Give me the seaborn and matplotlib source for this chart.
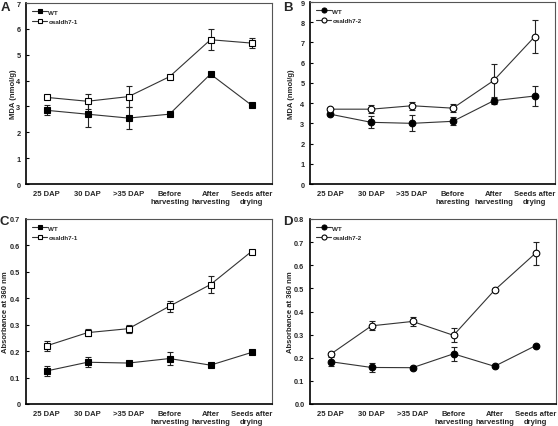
import numpy as np
import pandas as pd
import matplotlib
matplotlib.use("Agg")
import matplotlib.pyplot as plt
import seaborn as sns

sns.set_theme(style="white")
plt.rcParams["font.family"] = ["Liberation Sans", "DejaVu Sans"]
plt.rcParams["font.weight"] = "bold"

# Data
stages = ["25 DAP", "30 DAP", ">35 DAP", "Before\nharvesting", "After\nharvesting", "Seeds after\ndrying"]
stages_b = ["25 DAP", "30 DAP", ">35 DAP", "Before\nharesting", "After\nharvesting", "Seeds after\ndrying"]

a_wt = [2.85, 2.70, 2.55, 2.70, 4.25, 3.05]
a_wt_err = [0.20, 0.50, 0.42, 0.05, 0.05, 0.05]
a_mut = [3.35, 3.20, 3.38, 4.15, 5.58, 5.45]
a_mut_err = [0.05, 0.30, 0.40, 0.05, 0.40, 0.18]

b_wt = [3.45, 3.05, 3.00, 3.10, 4.12, 4.35]
b_wt_err = [0.05, 0.30, 0.40, 0.20, 0.15, 0.50]
b_mut = [3.70, 3.70, 3.87, 3.75, 5.12, 7.28]
b_mut_err = [0.05, 0.20, 0.20, 0.20, 0.80, 0.82]

c_wt = [0.125, 0.158, 0.155, 0.172, 0.147, 0.195]
c_wt_err = [0.020, 0.018, 0.005, 0.025, 0.005, 0.005]
c_mut = [0.220, 0.270, 0.285, 0.370, 0.452, 0.577]
c_mut_err = [0.020, 0.013, 0.015, 0.020, 0.033, 0.005]

d_wt = [0.183, 0.158, 0.157, 0.217, 0.163, 0.252]
d_wt_err = [0.020, 0.020, 0.005, 0.030, 0.005, 0.005]
d_mut = [0.215, 0.338, 0.357, 0.297, 0.492, 0.652]
d_mut_err = [0.005, 0.020, 0.020, 0.030, 0.005, 0.050]

W, H = 558, 427
fig = plt.figure(figsize=(W / 100, H / 100), dpi=100)


def px_axes(left, top, right, bottom):
    return fig.add_axes([left / W, 1 - bottom / H, (right - left) / W, (bottom - top) / H])


def draw_panel(ax, labels, wt, wt_err, mut, mut_err, mut_name, marker,
               ymax, yticks, yfmt, ylabel, label_x):
    x = np.arange(len(labels))
    df = pd.DataFrame({
        "x": np.concatenate([x, x]),
        "value": wt + mut,
        "line": ["WT"] * len(x) + [mut_name] * len(x),
    })
    msize = 4.2 if marker == "s" else 4.8
    for name, face in [("WT", "black"), (mut_name, "white")]:
        sub = df[df["line"] == name]
        err = wt_err if name == "WT" else mut_err
        ax.errorbar(sub["x"], sub["value"], yerr=err, fmt="none", ecolor="#222222",
                    elinewidth=0.8, capsize=2.2, capthick=0.8, zorder=2)
        sns.lineplot(data=sub, x="x", y="value", ax=ax, color="#333333", lw=0.8,
                     marker=marker, markersize=msize,
                     markerfacecolor=face, markeredgecolor="black", markeredgewidth=0.8,
                     label=name, zorder=3)
    ax.set_xlim(-0.5, len(labels) - 0.5)
    ax.set_ylim(0, ymax)
    ax.set_xticks(x)
    ax.set_xticklabels(labels, fontsize=5.5, fontweight="bold", linespacing=1.3)
    ax.set_xticks(x[:-1] + 0.5, minor=True)
    ax.tick_params(axis="x", which="major", length=0, pad=4)
    ax.tick_params(axis="x", which="minor", direction="in", length=3, width=0.8, color="black")
    ax.set_yticks(yticks)
    ax.set_yticklabels([yfmt.format(v) for v in yticks], fontsize=5.3, fontweight="bold")
    ax.tick_params(axis="y", direction="in", length=2.5, width=0.8, color="black", pad=4, left=True)
    ax.set_xlabel("")
    ax.set_ylabel(ylabel, fontsize=5.5, fontweight="bold")
    ax.yaxis.set_label_coords(label_x, 0.5)
    for s in ["left", "bottom"]:
        ax.spines[s].set_color("black")
        ax.spines[s].set_linewidth(1.2)
    for s in ["top", "right"]:
        ax.spines[s].set_color("#555555")
        ax.spines[s].set_linewidth(0.8)
    ax.legend(loc="upper left", frameon=False, handlelength=2.4, markerscale=0.75,
              handletextpad=0.2, labelspacing=0.6, borderaxespad=0.6,
              prop={"size": 4.5, "weight": "bold"})


ax_a = px_axes(26, 4, 272, 185)
draw_panel(ax_a, stages, a_wt, a_wt_err, a_mut, a_mut_err, "osaldh7-1", "s",
           7, list(range(0, 8)), "{:d}", "MDA (nmol/g)", -0.037)

ax_b = px_axes(310, 3, 555, 185)
draw_panel(ax_b, stages_b, b_wt, b_wt_err, b_mut, b_mut_err, "osaldh7-2", "o",
           9, list(range(0, 10)), "{:d}", "MDA (nmol/g)", -0.061)

ax_c = px_axes(26, 220, 272, 405)
draw_panel(ax_c, stages, c_wt, c_wt_err, c_mut, c_mut_err, "osaldh7-1", "s",
           0.7, [0, 0.1, 0.2, 0.3, 0.4, 0.5, 0.6, 0.7], "{:g}", "Absorbance at 360 nm", -0.069)

ax_d = px_axes(310, 220, 556, 405)
draw_panel(ax_d, stages, d_wt, d_wt_err, d_mut, d_mut_err, "osaldh7-2", "o",
           0.8, [0.0, 0.1, 0.2, 0.3, 0.4, 0.5, 0.6, 0.7, 0.8], "{:.1f}", "Absorbance at 360 nm", -0.065)

# panel letters
for letter, (px, py) in zip("ABCD", [(1, 2), (283, 2), (0, 216), (283, 216)]):
    fig.text(px / W, 1 - py / H, letter, fontsize=9.5, fontweight="bold", ha="left", va="top")

fig.savefig("out.png", dpi=100)
